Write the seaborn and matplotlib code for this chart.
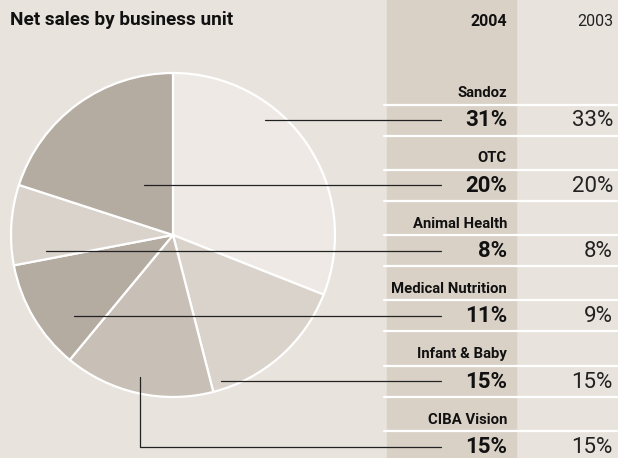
import pandas as pd
import seaborn as sns
import matplotlib.pyplot as plt

# Net sales share by business unit (table order, top to bottom)
units = ["Sandoz", "OTC", "Animal Health", "Medical Nutrition", "Infant & Baby", "CIBA Vision"]
share_2004 = [31, 20, 8, 11, 15, 15]
share_2003 = [33, 20, 8, 9, 15, 15]
years = ["2004", "2003"]

# pie slices, clockwise from 12 o'clock
pie_order = ["Sandoz", "Infant & Baby", "CIBA Vision", "Medical Nutrition", "Animal Health", "OTC"]

df = pd.DataFrame({"unit": units, "y2004": share_2004, "y2003": share_2003})

# styling
BG = "#e9e3dd"
COL_BG = "#d9d1c6"
slice_colors = {
    "Sandoz": "#eee9e4",
    "Infant & Baby": "#d9d3cb",
    "CIBA Vision": "#c8c0b6",
    "Medical Nutrition": "#b4aba1",
    "Animal Health": "#d9d3cb",
    "OTC": "#b4aba1",
}
# where each leader line starts inside the pie (x, optional y for an elbow)
leader_start = {
    "Sandoz": (265, None),
    "OTC": (144, None),
    "Animal Health": (46, None),
    "Medical Nutrition": (74, None),
    "Infant & Baby": (221, None),
    "CIBA Vision": (140, 377),
}

sns.set_theme(style="white")
plt.rcParams["font.family"] = ["Roboto", "DejaVu Sans"]

fig = plt.figure(figsize=(6.18, 4.58), dpi=100, facecolor=BG)
ax = fig.add_axes([0, 0, 1, 1])
ax.set_facecolor(BG)

pie_df = df.set_index("unit").loc[pie_order]
ax.pie(pie_df["y2004"], colors=[slice_colors[u] for u in pie_order],
       startangle=-90, counterclock=True, center=(173, 235), radius=162,
       wedgeprops=dict(edgecolor="white", linewidth=1.6, zorder=2))

ax.set_xlim(0, 618)
ax.set_ylim(458, 0)
ax.set_aspect("auto")
ax.axis("off")

# 2004 column band
ax.axvspan(387, 516, color=COL_BG, zorder=0)

ax.text(10, 25, "Net sales by business unit", fontsize=13.7, fontweight="bold",
        color="#111111", va="baseline", ha="left")
ax.text(507, 25.5, years[0], fontsize=11.5, fontweight="bold", color="#111111",
        ha="right", va="baseline")
ax.text(613, 25.5, years[1], fontsize=11.5, color="#222222",
        ha="right", va="baseline")

for i, row in df.iterrows():
    y = 120 + 65.3 * i
    ax.plot([384, 618], [y - 15.5, y - 15.5], color="white", lw=1.6, zorder=1)
    if i < len(df) - 1:
        ax.plot([384, 618], [y + 15.5, y + 15.5], color="white", lw=1.6, zorder=1)
    ax.text(507, y - 23, row["unit"], fontsize=10.7, fontweight="bold",
            color="#111111", ha="right", va="baseline", zorder=4)
    ax.text(507, y + 6.5, f"{row['y2004']}%", fontsize=16, fontweight="bold",
            color="#111111", ha="right", va="baseline", zorder=4)
    ax.text(613, y + 6.5, f"{row['y2003']}%", fontsize=16,
            color="#222222", ha="right", va="baseline", zorder=4)

    x0, y0 = leader_start[row["unit"]]
    if y0 is None:
        ax.plot([x0, 441], [y, y], color="#222222", lw=0.9, zorder=3)
    else:
        ax.plot([x0, x0, 441], [y0, y, y], color="#222222", lw=0.9, zorder=3)

fig.savefig("out.png", dpi=100, facecolor=BG)
